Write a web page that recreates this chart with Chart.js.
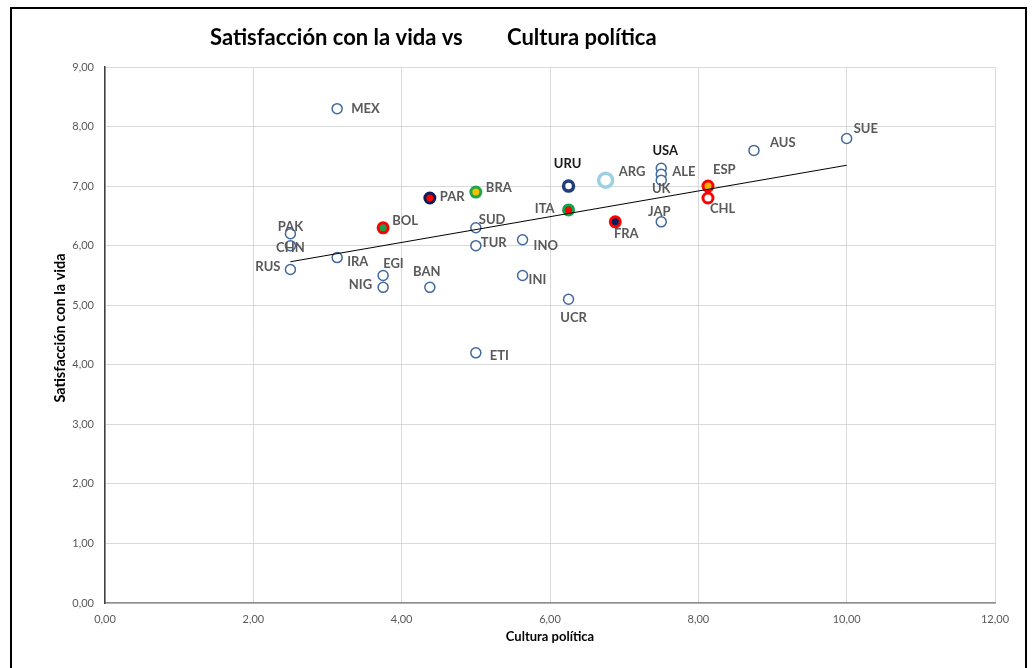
<!DOCTYPE html>
<html>
<head>
<meta charset="utf-8">
<script src="https://cdn.jsdelivr.net/npm/chart.js@4.4.1/dist/chart.umd.min.js"></script>
<style>
  html, body { margin: 0; padding: 0; background: #fff; }
  #frame {
    position: absolute; left: 10px; top: 7px; width: 1017px; height: 680px;
    border: 2px solid #000; box-sizing: border-box;
  }
  #wrap { position: absolute; left: 0; top: 0; width: 1035px; height: 668px; }
</style>
</head>
<body>
<div id="frame"></div>
<div id="wrap"><canvas id="chart" width="1035" height="668"></canvas></div>
<script>
// country codes, cultura politica (x), satisfaccion con la vida (y)
const countries = ['MEX', 'PAK', 'CHN', 'RUS', 'IRA', 'EGI', 'NIG', 'BOL', 'BAN', 'PAR', 'BRA', 'SUD', 'TUR', 'ETI', 'INO',
    'INI', 'UCR', 'URU', 'ITA', 'ARG', 'FRA', 'USA', 'ALE', 'UK', 'JAP', 'ESP', 'CHL', 'AUS', 'SUE'];
const culturaPolitica = [3.13, 2.5, 2.5, 2.5, 3.13, 3.75, 3.75, 3.75, 4.38, 4.38, 5.0, 5.0, 5.0, 5.0, 5.63,
    5.63, 6.25, 6.25, 6.25, 6.75, 6.88, 7.5, 7.5, 7.5, 7.5, 8.13, 8.13, 8.75, 10.0];
const satisfaccion = [8.3, 6.2, 6.0, 5.6, 5.8, 5.5, 5.3, 6.3, 5.3, 6.8, 6.9, 6.3, 6.0, 4.2, 6.1,
    5.5, 5.1, 7.0, 6.6, 7.1, 6.4, 7.3, 7.2, 7.1, 6.4, 7.0, 6.8, 7.6, 7.8];

// linear trendline, end points
const trendX = [2.5, 10.0];
const trendY = [5.73, 7.35];

const xTicks = [0, 2, 4, 6, 8, 10, 12];
const yTicks = [0, 1, 2, 3, 4, 5, 6, 7, 8, 9];

// marker styling (blue open circles unless highlighted)
const BLUE = '#41699e';
const special = {
    BOL: { fill: '#16a04a', border: '#ff0000', w: 3 },
    PAR: { fill: '#ff0000', border: '#0b1b5c', w: 3 },
    BRA: { fill: '#f2c200', border: '#1ea64b', w: 3 },
    URU: { fill: '#ffffff', border: '#1f3f7c', w: 3.5 },
    ITA: { fill: '#ff0000', border: '#16a04a', w: 3 },
    ARG: { fill: '#ffffff', border: '#9fd0e2', w: 3.5, r: 7 },
    FRA: { fill: '#0b1b5c', border: '#ff0000', w: 3 },
    ESP: { fill: '#f5b300', border: '#ff0000', w: 3 },
    CHL: { fill: '#ffffff', border: '#ff0000', w: 3 }
};

// label placement: [align, dx, dy] relative to the marker
const labelPos = {
    MEX: ['left', 14, 0], PAK: ['center', 0, -7], CHN: ['center', 0, 2], RUS: ['right', -10, -3],
    IRA: ['left', 10, 4], EGI: ['left', 0, -12], NIG: ['right', -11, -3], BOL: ['left', 9, -7],
    BAN: ['center', -3, -16], PAR: ['left', 10, -1], BRA: ['left', 10, -4], SUD: ['left', 3, -8],
    TUR: ['left', 5, -3], ETI: ['left', 14, 3], INO: ['left', 11, 6], INI: ['left', 6, 4],
    UCR: ['center', 5, 19], URU: ['center', -1, -22], ITA: ['right', -14, -1], ARG: ['left', 13, -8],
    FRA: ['center', 11, 12], USA: ['center', 4, -17], ALE: ['left', 11, -2], UK: ['center', 0, 9],
    JAP: ['center', -2, -10], ESP: ['left', 5, -16], CHL: ['left', 2, 11], AUS: ['left', 16, -8],
    SUE: ['left', 7, -10]
};

const points = countries.map((c, i) => ({ x: culturaPolitica[i], y: satisfaccion[i] }));
const fmt = v => v.toFixed(2).replace('.', ',');
const FONT = 'Lato, "Open Sans", sans-serif';

const textPlugin = {
    id: 'textPlugin',
    afterDatasetsDraw(chart) {
        const ctx = chart.ctx;
        const meta = chart.getDatasetMeta(1);
        ctx.save();
        ctx.font = 'bold 13px ' + FONT;
        ctx.textBaseline = 'middle';
        countries.forEach((c, i) => {
            const el = meta.data[i];
            const p = labelPos[c];
            ctx.textAlign = p[0];
            ctx.fillStyle = (c === 'URU' || c === 'USA') ? '#1a1a1a' : '#595959';
            ctx.fillText(c, el.x + p[1], el.y + p[2]);
        });
        ctx.restore();
    },
    afterDraw(chart) {
        const ctx = chart.ctx;
        ctx.save();
        ctx.fillStyle = '#000';
        ctx.textBaseline = 'middle';
        ctx.textAlign = 'left';
        ctx.font = 'bold 22px ' + FONT;
        ctx.fillText('Satisfacción con la vida vs', 210, 38);
        ctx.fillText('Cultura política', 507, 38);

        ctx.font = 'bold 13px ' + FONT;
        ctx.textAlign = 'center';
        ctx.fillText('Cultura política', 550, 637);

        ctx.font = 'bold 14.5px ' + FONT;
        ctx.translate(60, 328);
        ctx.rotate(-Math.PI / 2);
        ctx.fillText('Satisfacción con la vida', 0, 0);
        ctx.restore();
    }
};

new Chart(document.getElementById('chart').getContext('2d'), {
    type: 'scatter',
    data: {
        datasets: [
            {
                type: 'line',
                data: trendX.map((x, i) => ({ x: x, y: trendY[i] })),
                borderColor: '#000',
                borderWidth: 1,
                pointRadius: 0,
                fill: false
            },
            {
                data: points,
                pointStyle: 'circle',
                pointRadius: countries.map(c => (special[c] && special[c].r) || 5),
                pointBorderWidth: countries.map(c => special[c] ? special[c].w : 1.5),
                pointBackgroundColor: countries.map(c => special[c] ? special[c].fill : '#ffffff'),
                pointBorderColor: countries.map(c => special[c] ? special[c].border : BLUE),
                pointHoverRadius: 5
            }
        ]
    },
    options: {
        responsive: false,
        animation: false,
        layout: { padding: { left: 0, top: 67, right: 40, bottom: 0 } },
        plugins: { legend: { display: false }, tooltip: { enabled: false } },
        scales: {
            x: {
                type: 'linear',
                min: 0, max: 12,
                afterFit: s => { s.height = 65; },
                afterBuildTicks: s => { s.ticks = xTicks.map(v => ({ value: v })); },
                grid: { color: '#d9d9d9', drawTicks: false },
                border: { color: '#8c8c8c', width: 1.5 },
                ticks: { padding: 10, color: '#595959', font: { size: 11, family: FONT }, callback: v => fmt(v) }
            },
            y: {
                type: 'linear',
                min: 0, max: 9,
                afterFit: s => { s.width = 105; },
                afterBuildTicks: s => { s.ticks = yTicks.map(v => ({ value: v })); },
                grid: { color: '#d9d9d9', drawTicks: false },
                border: { color: '#404040', width: 1.5 },
                ticks: { padding: 11, color: '#595959', font: { size: 11, family: FONT }, callback: v => fmt(v) }
            }
        }
    },
    plugins: [textPlugin]
});
</script>
</body>
</html>
